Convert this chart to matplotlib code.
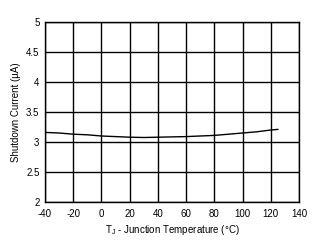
import matplotlib
matplotlib.use("Agg")
import matplotlib.pyplot as plt

plt.rcParams['font.family'] = ['Liberation Sans', 'DejaVu Sans']
plt.rcParams['axes.unicode_minus'] = False

temp = [-40, -30, -20, -10, 0, 10, 20, 30, 40, 50, 60, 70, 80, 90, 100, 110, 120, 125]
current = [3.16, 3.15, 3.13, 3.12, 3.10, 3.09, 3.08, 3.075, 3.08, 3.085, 3.09, 3.10, 3.11, 3.13, 3.15, 3.17, 3.20, 3.21]

xticks = [-40, -20, 0, 20, 40, 60, 80, 100, 120, 140]
yticks = [2, 2.5, 3, 3.5, 4, 4.5, 5]

fig = plt.figure(figsize=(3.21, 2.43), dpi=100)
ax = fig.add_axes([45/321, 41/243, 254/321, 180/243])
ax.plot(temp, current, color='black', lw=1)
ax.set_xlim(-40, 140)
ax.set_ylim(2, 5)
ax.set_xticks(xticks)
ax.set_yticks(yticks)
ax.set_yticklabels(['2', '2.5', '3', '3.5', '4', '4.5', '5'])
ax.grid(True, color='black', lw=1)
for s in ax.spines.values():
    s.set_linewidth(1)
ax.tick_params(length=0, labelsize=7)
ax.tick_params(axis='x', pad=5)
ax.tick_params(axis='y', pad=4)
ax.set_xlabel(r'T$_\mathregular{J}$ - Junction Temperature (°C)', fontsize=7, labelpad=3)
ax.set_ylabel('Shutdown Current (µA)', fontsize=7, labelpad=4)
fig.savefig('out.png', dpi=100)
